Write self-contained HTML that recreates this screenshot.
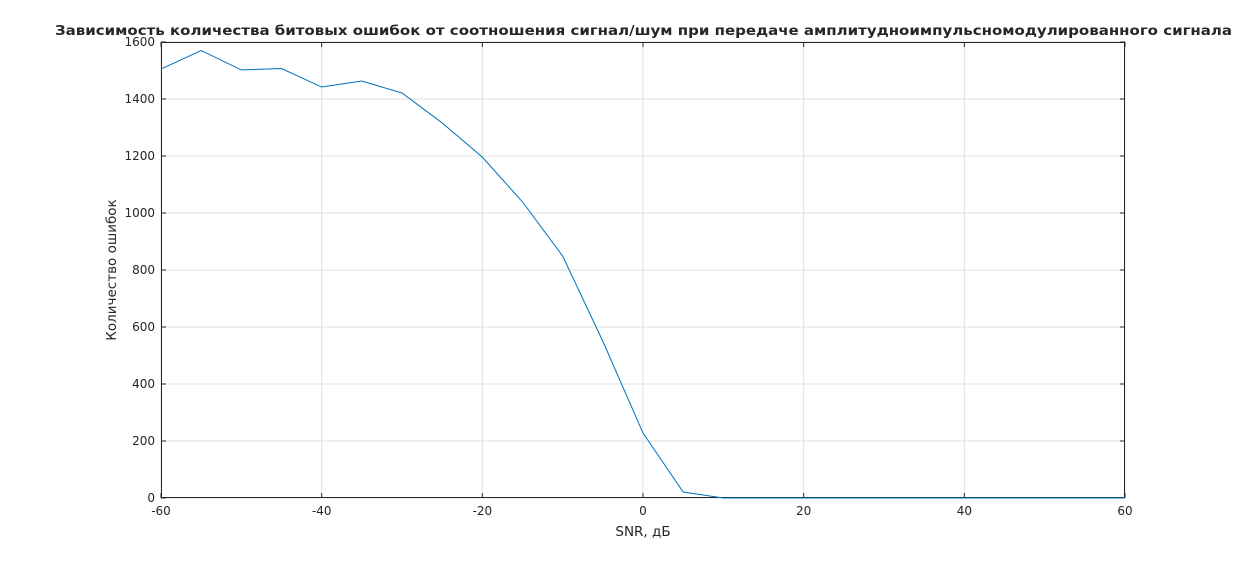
<!DOCTYPE html>
<html><head><meta charset="utf-8"><style>
body{margin:0;background:#fff;}
svg text{font-family:"DejaVu Sans","Liberation Sans",sans-serif;fill:#262626;}
</style></head><body>
<svg width="1243" height="560" id="c">
<rect width="1243" height="560" fill="#fff"/>
</svg>
<script>
const snr=[-60,-55,-50,-45,-40,-35,-30,-25,-20,-15,-10,-5,0,5,10,15,20,25,30,35,40,45,50,55,60];
const errors=[1505,1570,1502,1507,1442,1463,1421,1316,1196,1039,849,550,228,21,0,0,0,0,0,0,0,0,0,0,0];
const xTicks=[-60,-40,-20,0,20,40,60];
const yTicks=[0,200,400,600,800,1000,1200,1400,1600];
const L=161,R=1125,T=42,B=498;
const X=v=>L+(v+60)/120*(R-L), Y=v=>B-v/1600*(B-T);
const s=document.getElementById('c'),NS='http://www.w3.org/2000/svg';
function mk(t,a,txt){const e=document.createElementNS(NS,t);for(const k in a)e.setAttribute(k,a[k]);if(txt!=null)e.textContent=txt;s.appendChild(e);return e;}
let e=mk('rect',{x:L,y:T,width:R-L,height:B-T,fill:'#fff',stroke:'none'});


xTicks.forEach(t=>{const x=X(t);
e=mk('line',{x1:x,x2:x,y1:T,y2:B,stroke:'#dfdfdf','stroke-width':1});


mk('line',{x1:x,x2:x,y1:B,y2:B-5,stroke:'#262626'});
mk('line',{x1:x,x2:x,y1:T,y2:T+5,stroke:'#262626'});
e=mk('text',{x:x,y:B+17,'text-anchor':'middle','font-size':12},t);

});
yTicks.forEach(t=>{const y=Y(t);
e=mk('line',{x1:L,x2:R,y1:y,y2:y,stroke:'#dfdfdf','stroke-width':1});


mk('line',{x1:L,x2:L+5,y1:y,y2:y,stroke:'#262626'});
mk('line',{x1:R,x2:R-5,y1:y,y2:y,stroke:'#262626'});
e=mk('text',{x:L-6,y:y+4,'text-anchor':'end','font-size':12},t);

});
e=mk('rect',{x:L+.5,y:T+.5,width:R-L-1,height:B-T-1,fill:'none',stroke:'#262626','stroke-width':1});


e=mk('polyline',{points:snr.map((v,i)=>X(v)+','+Y(errors[i])).join(' '),fill:'none',stroke:'#0072bd','stroke-width':1});


e=mk('text',{x:55,y:35,'font-size':13.5,'font-weight':'bold',fill:'#000',textLength:1177,lengthAdjust:'spacingAndGlyphs'},'Зависимость количества битовых ошибок от соотношения сигнал/шум при передаче амплитудноимпульсномодулированного сигнала');


e=mk('text',{x:643,y:536,'text-anchor':'middle','font-size':13.5},'SNR, дБ');


e=mk('text',{x:116,y:270,'text-anchor':'middle','font-size':13.5,transform:'rotate(-90 116 270)'},'Количество ошибок');


</script>
</body></html>
